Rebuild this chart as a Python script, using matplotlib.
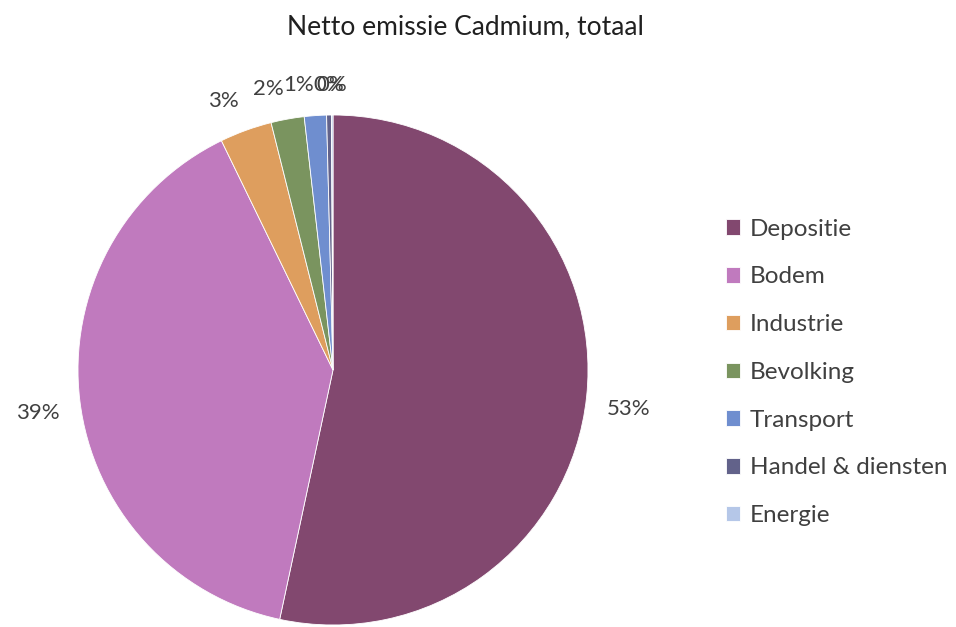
import numpy as np
import matplotlib.pyplot as plt

# Data
categories = ['Depositie', 'Bodem', 'Industrie', 'Bevolking', 'Transport',
              'Handel & diensten', 'Energie']
shares = [53.3, 39.4, 3.3, 2.1, 1.4, 0.3, 0.1]
colors = ['#82486F', '#C07ABE', '#DE9E5E', '#7A945F', '#6F8ECF', '#62628A', '#B5C7E8']

plt.rcParams['font.family'] = ['Lato', 'DejaVu Sans']
text_color = '#404040'

fig = plt.figure(figsize=(9.56, 6.27), dpi=100)
ax = fig.add_axes([78 / 956, 2 / 627, 510 / 956, 510 / 627])

wedges, texts, autotexts = ax.pie(
    shares, colors=colors, startangle=90, counterclock=False,
    autopct='%.0f%%', pctdistance=1.14,
    wedgeprops=dict(linewidth=0.6, edgecolor='white'),
    textprops=dict(fontsize=16, color=text_color))
ax.set_xlim(-1, 1)
ax.set_ylim(-1, 1)
ax.set_aspect('equal')

# Excel-style label placement: nearest corner of the label sits just outside the pie
for w, t in zip(wedges, autotexts):
    mid = np.deg2rad((w.theta1 + w.theta2) / 2)
    x, y = 1.08 * np.cos(mid), 1.08 * np.sin(mid)
    t.set_position((x, y))
    if abs(x) < 0.03:
        t.set_ha('center')
    else:
        t.set_ha('left' if x >= 0 else 'right')
    t.set_va('bottom' if y >= 0 else 'top')

fig.text(0.487, 0.958, 'Netto emissie Cadmium, totaal', ha='center', va='center',
         fontsize=19, color='#202020')

leg = fig.legend(wedges, categories, loc='upper left',
                 bbox_to_anchor=(716 / 956, 1 - 209 / 627),
                 frameon=False, fontsize=17.5, labelcolor=text_color,
                 handlelength=0.6, handleheight=0.6, handletextpad=0.4,
                 labelspacing=1.1, borderaxespad=0)

fig.savefig('out.png', dpi=100)
